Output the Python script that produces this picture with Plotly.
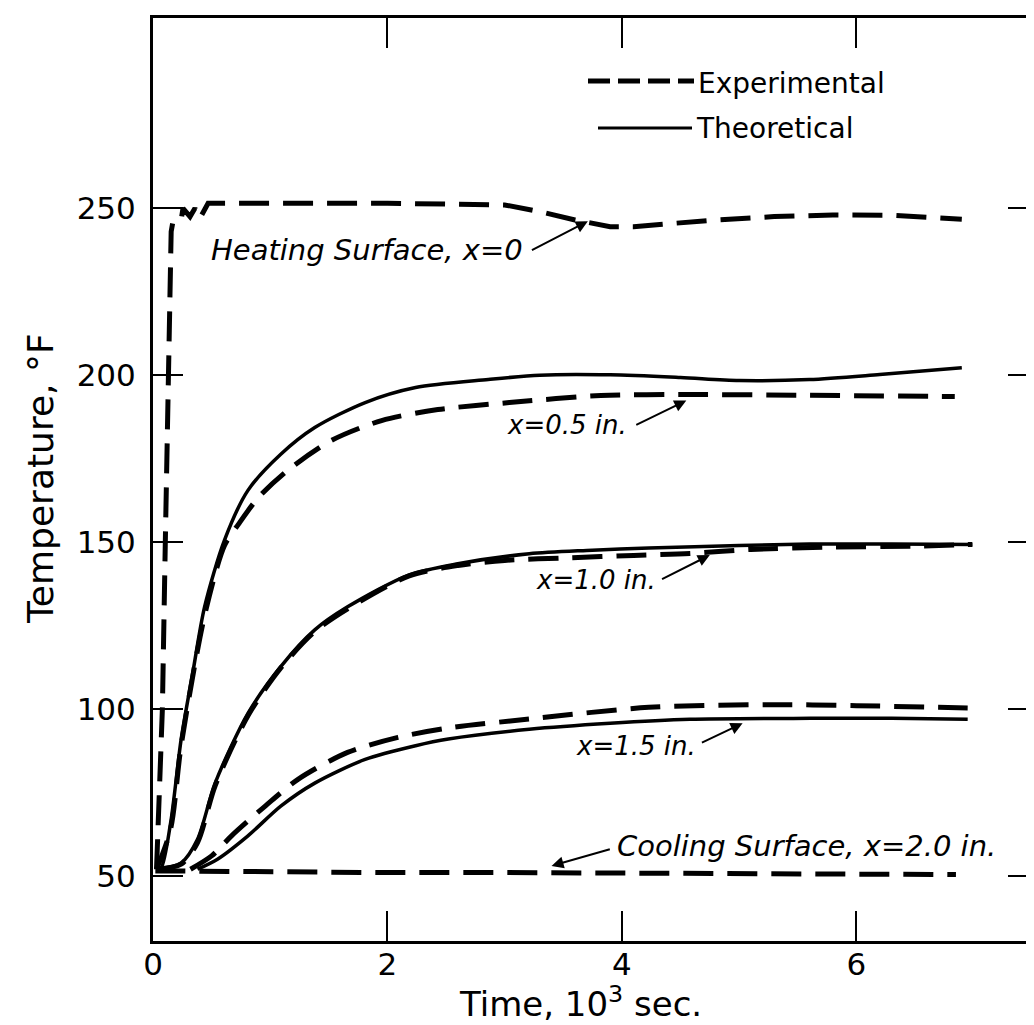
import plotly.graph_objects as go

# ---- data (time in 10^3 s, temperature in °F) ----
heat_exp_t = [0.03, 0.04, 0.08, 0.105, 0.13, 0.155, 0.17, 0.24, 0.256, 0.316, 0.358, 0.40, 0.47,
              1.0, 2.0, 3.0, 3.3, 3.6, 3.9, 4.1, 4.4, 4.8, 5.3, 5.8, 6.3, 6.9]
heat_exp_T = [52, 60, 100, 150, 200, 243, 246, 246.5, 250, 247.5, 250, 247, 251.5,
              251.5, 251.5, 251, 249, 246.5, 244.5, 244.5, 245.5, 246.5, 247.5, 248, 247.9, 246.7]

x05_th_t = [0.03, 0.07, 0.15, 0.24, 0.34, 0.44, 0.61, 0.81, 1.09, 1.38, 1.81, 2.24, 2.86,
            3.3, 3.9, 4.5, 5.0, 5.6, 6.2, 6.9]
x05_th_T = [52, 52.5, 65.8, 90.9, 111, 130.6, 150.6, 165.5, 176.3, 184.3, 191.8, 196.3, 198.7,
            200, 200.1, 199.3, 198.4, 198.7, 200.2, 202.2]

x05_ex_t = [0.03, 0.15, 0.24, 0.44, 0.61, 0.73, 0.9, 1.15, 1.52, 1.95, 2.43, 3.04, 3.82,
            4.58, 5.5, 6.84]
x05_ex_T = [52, 64, 89, 128, 149, 155.4, 163.4, 171.5, 180.4, 186.4, 189.7, 191.8, 193.9,
            194.2, 194, 193.6]

x10_th_t = [0.03, 0.24, 0.38, 0.53, 0.81, 1.09, 1.38, 1.66, 2.18, 2.6, 3.21, 3.7, 4.23,
            5.0, 5.6, 6.3, 6.99]
x10_th_T = [52, 53.9, 61, 77.8, 98.7, 112.7, 123.7, 130.6, 140.1, 143.5, 146.5, 147.5, 148.2,
            149, 149.4, 149.4, 149.3]

x10_ex_t = [0.03, 0.24, 0.38, 0.53, 0.81, 1.09, 1.38, 1.66, 2.18, 2.6, 3.0, 3.55, 4.1,
            4.58, 5.1, 5.8, 6.5, 6.99]
x10_ex_T = [52, 53.5, 60, 77, 98, 112.3, 123.2, 130, 139.8, 143, 144.5, 145.3, 146,
            146.6, 147.8, 148.5, 148.8, 149.3]

x15_ex_t = [0.32, 0.5, 0.67, 0.96, 1.24, 1.66, 2.09, 2.52, 3.21, 4.23, 5.26, 6.0, 6.95]
x15_ex_T = [52, 56, 62, 71, 79, 87, 91.5, 94.3, 97, 100.5, 101.3, 101, 100.3]

x15_th_t = [0.38, 0.55, 0.81, 1.09, 1.38, 1.81, 2.24, 2.52, 3.21, 3.9, 4.58, 5.61, 6.3, 6.95]
x15_th_T = [52, 55, 62, 70.9, 77.8, 84.9, 89, 91, 93.9, 95.7, 96.9, 97.2, 97.2, 96.9]

cool_ex_t = [0.02, 1.0, 2.0, 3.0, 4.0, 5.0, 6.0, 6.85]
cool_ex_T = [51.5, 51.2, 51.0, 51.0, 50.9, 50.8, 50.6, 50.4]

x_ticks = [0, 2, 4, 6]
y_ticks = [50, 100, 150, 200, 250]

FONT = "DejaVu Sans"
DASH = "30px,14px"

fig = go.Figure()

def add(t, T, dashed, shape="spline"):
    fig.add_trace(go.Scatter(
        x=t, y=T, mode="lines", showlegend=False, hoverinfo="skip",
        line=dict(color="black", width=5 if dashed else 3.5,
                  dash=DASH if dashed else "solid", shape=shape,
                  smoothing=0.8 if shape == "spline" else None),
    ))

add(heat_exp_t, heat_exp_T, True, shape="linear")
add(x05_th_t, x05_th_T, False)
add(x05_ex_t, x05_ex_T, True)
add(x10_th_t, x10_th_T, False)
add(x10_ex_t, x10_ex_T, True)
add(x15_th_t, x15_th_T, False)
add(x15_ex_t, x15_ex_T, True)
add(cool_ex_t, cool_ex_T, True, shape="linear")

# ---- labels with arrows ----
labels = [
    ("Heating Surface, x=0", 3.17, 237.5, "right", 29, (3.22, 237.2), (3.71, 246.1)),
    ("x=0.5 in.", 4.06, 185.2, "right", 26, (4.11, 184.9), (4.55, 192.4)),
    ("x=1.0 in.", 4.31, 138.7, "right", 26, (4.33, 138.7), (4.75, 146.1)),
    ("x=1.5 in.", 4.65, 88.8, "right", 26, (4.67, 89.7), (5.03, 95.7)),
    ("Cooling Surface, x=2.0 in.", 3.94, 59.0, "left", 29, (3.91, 58.1), (3.40, 53.0)),
]
for txt, tx, ty, anchor, fs, tail, head in labels:
    fig.add_annotation(x=tx, y=ty, xref="x", yref="y", text="<i>" + txt + "</i>",
                       showarrow=False, xanchor=anchor, yanchor="middle",
                       font=dict(family=FONT, size=fs, color="black"))
    fig.add_annotation(x=head[0], y=head[1], ax=tail[0], ay=tail[1],
                       xref="x", yref="y", axref="x", ayref="y", text="",
                       showarrow=True, arrowhead=2, arrowsize=1.2, arrowwidth=2,
                       arrowcolor="black")

# ---- legend (drawn) ----
W, H, L, B = 885.0, 923.0, 145.0, 933.0
def px(xp):
    return (xp - L) / W
def py(yp):
    return (B - yp) / H

fig.add_shape(type="line", xref="paper", yref="paper",
              x0=px(580), x1=px(686), y0=py(73), y1=py(73),
              line=dict(color="black", width=5, dash="22px,8px"))
fig.add_shape(type="line", xref="paper", yref="paper",
              x0=px(590), x1=px(684), y0=py(120), y1=py(120),
              line=dict(color="black", width=3))
fig.add_annotation(x=px(688), y=py(75), xref="paper", yref="paper", text="Experimental",
                   showarrow=False, xanchor="left", yanchor="middle",
                   font=dict(family=FONT, size=28, color="black"))
fig.add_annotation(x=px(686), y=py(120), xref="paper", yref="paper", text="Theoretical",
                   showarrow=False, xanchor="left", yanchor="middle",
                   font=dict(family=FONT, size=28, color="black"))

# ---- axis titles ----
fig.add_annotation(x=px(572), y=py(994), xref="paper", yref="paper",
                   text="Time, 10<sup>3</sup> sec.", showarrow=False,
                   xanchor="center", yanchor="middle",
                   font=dict(family=FONT, size=34, color="black"))
fig.add_annotation(x=px(32), y=py(471), xref="paper", yref="paper",
                   text="Temperature, °F", showarrow=False, textangle=-90,
                   xanchor="center", yanchor="middle",
                   font=dict(family=FONT, size=36, color="black"))

axis_common = dict(showline=True, linewidth=3, linecolor="black", mirror="allticks",
                   ticks="inside", ticklen=30, tickwidth=2, tickcolor="black",
                   showgrid=False, zeroline=False,
                   tickfont=dict(family=FONT, size=31, color="black"))

fig.update_xaxes(range=[0, 7.55], tickvals=x_ticks, ticktext=[str(v) for v in x_ticks],
                 ticklabelstandoff=-6, **axis_common)
fig.update_yaxes(range=[30.5, 307], tickvals=y_ticks, ticktext=[str(v) for v in y_ticks],
                 ticklabelstandoff=8, **axis_common)

fig.update_layout(width=1034, height=1025, plot_bgcolor="white", paper_bgcolor="white",
                  margin=dict(l=145, r=4, t=10, b=92, autoexpand=False),
                  showlegend=False)

fig.write_html("out.html")
